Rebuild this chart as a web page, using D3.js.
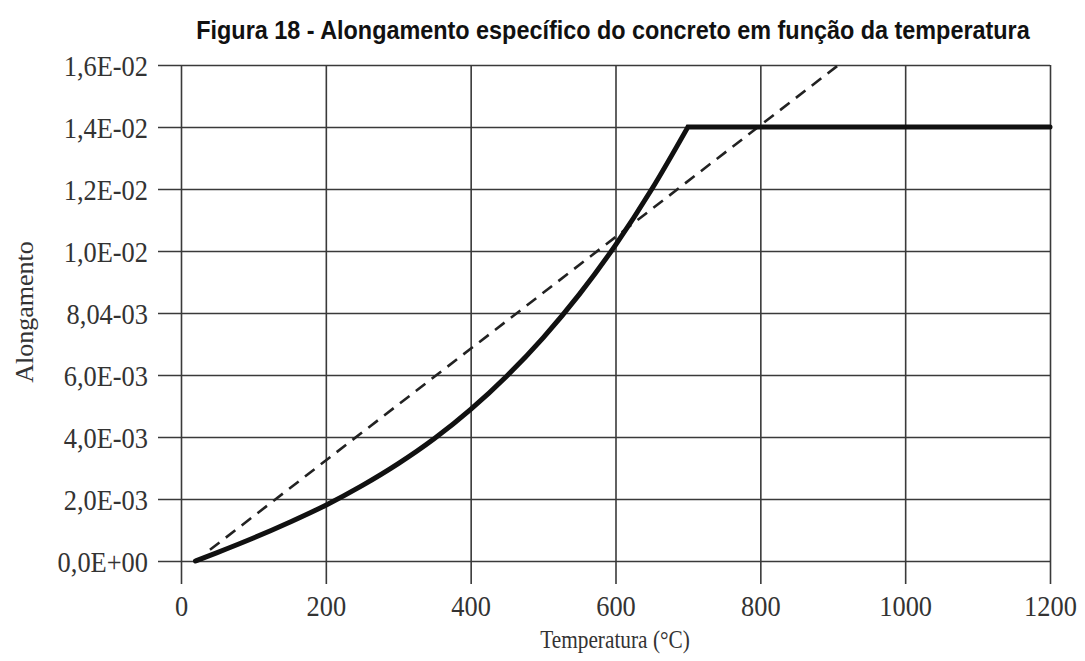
<!DOCTYPE html>
<html>
<head>
<meta charset="utf-8">
<script src="https://cdn.jsdelivr.net/npm/d3@7"></script>
<style>
  body { margin: 0; background: #fff; }
  svg { display: block; }
  .tick text { font-family: "Liberation Serif", "Times New Roman", serif; fill: #333; }
</style>
</head>
<body>
<svg id="chart" width="1085" height="661"></svg>
<script>
// temperature (°C) vs specific elongation
var tempCurve = [20, 50, 100, 150, 200, 250, 300, 350, 400, 450, 500, 550, 600, 650, 700];
var elongCurve = [0, 0.00027, 0.00074, 0.00125, 0.0018, 0.00243, 0.00314, 0.00395, 0.00489,
  0.00597, 0.0072, 0.0086, 0.01019, 0.01199, 0.014];

// plateau after 700 °C
var tempPlateau = [700, 1200];
var elongPlateau = [0.014, 0.014];

// simplified (dashed) relation
var tempLinear = [40, 908];
var elongLinear = [0.00036, 0.016];

var xTicks = [0, 200, 400, 600, 800, 1000, 1200];
var yTicks = [0, 0.002, 0.004, 0.006, 0.008, 0.010, 0.012, 0.014, 0.016];
var yTickLabels = ["0,0E+00", "2,0E-03", "4,0E-03", "6,0E-03", "8,04-03", "1,0E-02", "1,2E-02", "1,4E-02", "1,6E-02"];

var margin = {left: 181, right: 35, top: 65, bottom: 100};
var svg = d3.select("#chart");
var W = +svg.attr("width"), H = +svg.attr("height");
var w = W - margin.left - margin.right, h = H - margin.top - margin.bottom;

var x = d3.scaleLinear().domain([0, 1200]).range([0, w]);
var y = d3.scaleLinear().domain([0, 0.016]).range([h, 0]);

var g = svg.append("g").attr("transform", "translate(" + margin.left + "," + margin.top + ")");

var gridColor = "#3a3a3a";
var tickOut = 23;

// y axis: ticks become full gridlines that also stick out to the left
var yAxis = g.append("g")
  .call(d3.axisLeft(y).tickValues(yTicks).tickFormat(function (d, i) { return yTickLabels[i]; }).tickSize(tickOut));
yAxis.select(".domain").remove();
yAxis.selectAll(".tick line")
  .attr("x1", w).attr("x2", -tickOut)
  .attr("stroke", gridColor).attr("stroke-width", 1.6);
yAxis.selectAll(".tick text")
  .attr("x", 0).attr("dy", "0.35em")
  .attr("transform", "translate(-33,0) scale(0.88,1)")
  .style("font-size", "30px");

// x axis
var xAxis = g.append("g")
  .attr("transform", "translate(0," + h + ")")
  .call(d3.axisBottom(x).tickValues(xTicks).tickFormat(d3.format("d")).tickSize(tickOut));
xAxis.select(".domain").remove();
xAxis.selectAll(".tick line")
  .attr("y1", -h).attr("y2", tickOut)
  .attr("stroke", gridColor).attr("stroke-width", 1.6);
xAxis.selectAll(".tick text")
  .attr("y", 0).attr("dy", 0)
  .attr("transform", "translate(0,55) scale(0.88,1)")
  .style("font-size", "30px");

// dashed simplified line
var line = d3.line().x(function (d) { return x(d[0]); }).y(function (d) { return y(d[1]); });
g.append("path")
  .datum(d3.zip(tempLinear, elongLinear))
  .attr("d", line)
  .attr("fill", "none")
  .attr("stroke", "#222")
  .attr("stroke-width", 2.6)
  .attr("stroke-dasharray", "12,8");

// solid curve: smooth rise, then sharp corner into the plateau
var smooth = d3.line().curve(d3.curveMonotoneX)
  .x(function (d) { return x(d[0]); }).y(function (d) { return y(d[1]); });
var rise = smooth(d3.zip(tempCurve, elongCurve));
var flat = line(d3.zip(tempPlateau, elongPlateau)).replace(/^M[^L]*/, "");
g.append("path")
  .attr("d", rise + flat)
  .attr("fill", "none")
  .attr("stroke", "#111")
  .attr("stroke-width", 5)
  .attr("stroke-linejoin", "miter")
  .attr("stroke-linecap", "round");

// title
svg.append("text")
  .attr("transform", "translate(613,39) scale(0.9,1)")
  .attr("text-anchor", "middle")
  .style("font-family", "Liberation Sans, Arial, sans-serif")
  .style("font-weight", "bold")
  .style("font-size", "26px")
  .style("fill", "#111")
  .text("Figura 18 - Alongamento específico do concreto em função da temperatura");

// axis titles
svg.append("text")
  .attr("transform", "translate(615,648) scale(0.82,1)")
  .attr("text-anchor", "middle")
  .style("font-family", "Liberation Serif, Times New Roman, serif")
  .style("font-size", "26px")
  .style("fill", "#333")
  .text("Temperatura (°C)");

svg.append("text")
  .attr("transform", "translate(33,312) rotate(-90)")
  .attr("text-anchor", "middle")
  .style("font-family", "Liberation Serif, Times New Roman, serif")
  .style("font-size", "26px")
  .style("fill", "#333")
  .text("Alongamento");
</script>
</body>
</html>
